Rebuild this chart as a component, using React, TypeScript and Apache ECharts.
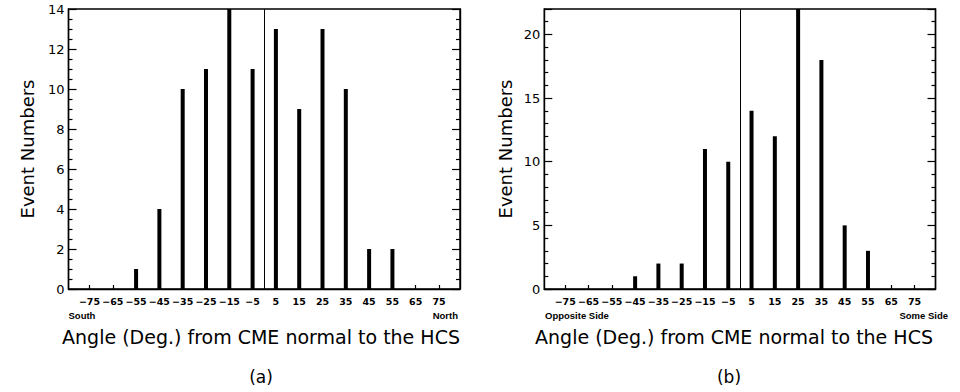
import React, { useEffect, useRef } from "react";
import * as echarts from "echarts";

// ---- data ----
const angleTicks = [-75, -65, -55, -45, -35, -25, -15, -5, 5, 15, 25, 35, 45, 55, 65, 75];
const eventsA = [0, 0, 1, 4, 10, 11, 14, 11, 13, 9, 13, 10, 2, 2, 0, 0];
const eventsB = [0, 0, 0, 1, 2, 2, 11, 10, 14, 12, 22, 18, 5, 3, 0, 0];
const yTicksA = [0, 2, 4, 6, 8, 10, 12, 14];
const yTicksB = [0, 5, 10, 15, 20];
const xTitle = "Angle (Deg.) from CME normal to the HCS";
const yTitle = "Event Numbers";
const panelLabels = ["(a)", "(b)"];
const sideLabelsA = ["South", "North"];
const sideLabelsB = ["Opposite Side", "Some Side"];

const BLACK = "#000";
const FONT = "DejaVu Sans";

const fmtAngle = (v: number) => (v < 0 ? "\u2212" + Math.abs(v) : String(v));

function makeXAxis(gridIndex: number) {
  return {
    type: "value",
    gridIndex,
    min: -84,
    max: 84,
    splitLine: { show: false },
    axisLine: { show: true, onZero: false, lineStyle: { color: BLACK, width: 1.4 } },
    axisTick: {
      show: true,
      inside: true,
      length: 4,
      customValues: angleTicks,
      lineStyle: { color: BLACK, width: 1.2 },
    },
    axisLabel: {
      customValues: angleTicks,
      formatter: fmtAngle,
      color: BLACK,
      fontFamily: FONT,
      fontSize: 9.5,
      fontWeight: "bold",
      margin: 7,
    },
  };
}

function makeYAxes(gridIndex: number, max: number, interval: number, split: number, ticks: number[], nameGap: number) {
  const common = {
    type: "value",
    gridIndex,
    min: 0,
    max,
    interval,
    splitLine: { show: false },
    axisLine: { show: true, onZero: false, lineStyle: { color: BLACK, width: 1.4 } },
    axisTick: { show: true, inside: true, length: 8, lineStyle: { color: BLACK, width: 1.2 } },
    minorTick: { show: true, splitNumber: split, length: 4, lineStyle: { color: BLACK, width: 1.2 } },
  };
  return [
    {
      ...common,
      position: "left",
      name: yTitle,
      nameLocation: "middle",
      nameGap,
      nameTextStyle: { color: BLACK, fontFamily: FONT, fontSize: 18 },
      axisLabel: {
        color: BLACK,
        fontFamily: FONT,
        fontSize: 13,
        margin: 4,
        formatter: (v: number) => (ticks.includes(v) ? String(v) : ""),
      },
    },
    { ...common, position: "right", axisLabel: { show: false } },
  ];
}

function barSeries(axisIndex: number, values: number[]) {
  return {
    type: "bar",
    xAxisIndex: axisIndex,
    yAxisIndex: axisIndex * 2,
    data: angleTicks.map((a, i) => [a, values[i]]),
    barWidth: 4,
    itemStyle: { color: BLACK },
    markLine: {
      silent: true,
      symbol: "none",
      label: { show: false },
      lineStyle: { color: BLACK, width: 1, type: "solid" },
      data: [{ xAxis: 0 }],
    },
  };
}

function txt(text: string, x: number, y: number, align: string, size: number, family: string, weight = "normal") {
  return {
    type: "text",
    x,
    y,
    silent: true,
    style: {
      text,
      fill: BLACK,
      fontSize: size,
      fontFamily: family,
      fontWeight: weight,
      align,
      verticalAlign: "middle",
      textAlign: align,
      textVerticalAlign: "middle",
    },
  };
}

export default function App() {
  const ref = useRef<HTMLDivElement>(null);
  useEffect(() => {
    if (!ref.current) return;
    const chart = echarts.init(ref.current, undefined, { renderer: "svg" });
    chart.setOption({
      animation: false,
      backgroundColor: "#fff",
      grid: [
        { left: 68.5, top: 9, width: 391.5, height: 280, show: true, borderColor: BLACK, borderWidth: 1.4 },
        { left: 544.3, top: 9, width: 391.2, height: 280, show: true, borderColor: BLACK, borderWidth: 1.4 },
      ],
      xAxis: [makeXAxis(0), makeXAxis(1)],
      yAxis: [
        ...makeYAxes(0, 14, 2, 4, yTicksA, 32),
        ...makeYAxes(1, 22, 5, 5, yTicksB, 30),
      ],
      series: [barSeries(0, eventsA), barSeries(1, eventsB)],
      graphic: [
        txt(xTitle, 261, 337, "center", 19, FONT),
        txt(xTitle, 734, 337, "center", 19, FONT),
        txt(panelLabels[0], 261, 377, "center", 17, FONT),
        txt(panelLabels[1], 729, 377, "center", 17, FONT),
        txt(sideLabelsA[0], 68.5, 315.5, "left", 9.5, "Liberation Sans", "bold"),
        txt(sideLabelsA[1], 458, 315.5, "right", 9.5, "Liberation Sans", "bold"),
        txt(sideLabelsB[0], 545, 315.5, "left", 9.5, "Liberation Sans", "bold"),
        txt(sideLabelsB[1], 948, 315.5, "right", 9.5, "Liberation Sans", "bold"),
      ],
    });
    return () => chart.dispose();
  }, []);
  return <div ref={ref} style={{ position: "absolute", left: 0, top: 0, width: 960, height: 392 }} />;
}
